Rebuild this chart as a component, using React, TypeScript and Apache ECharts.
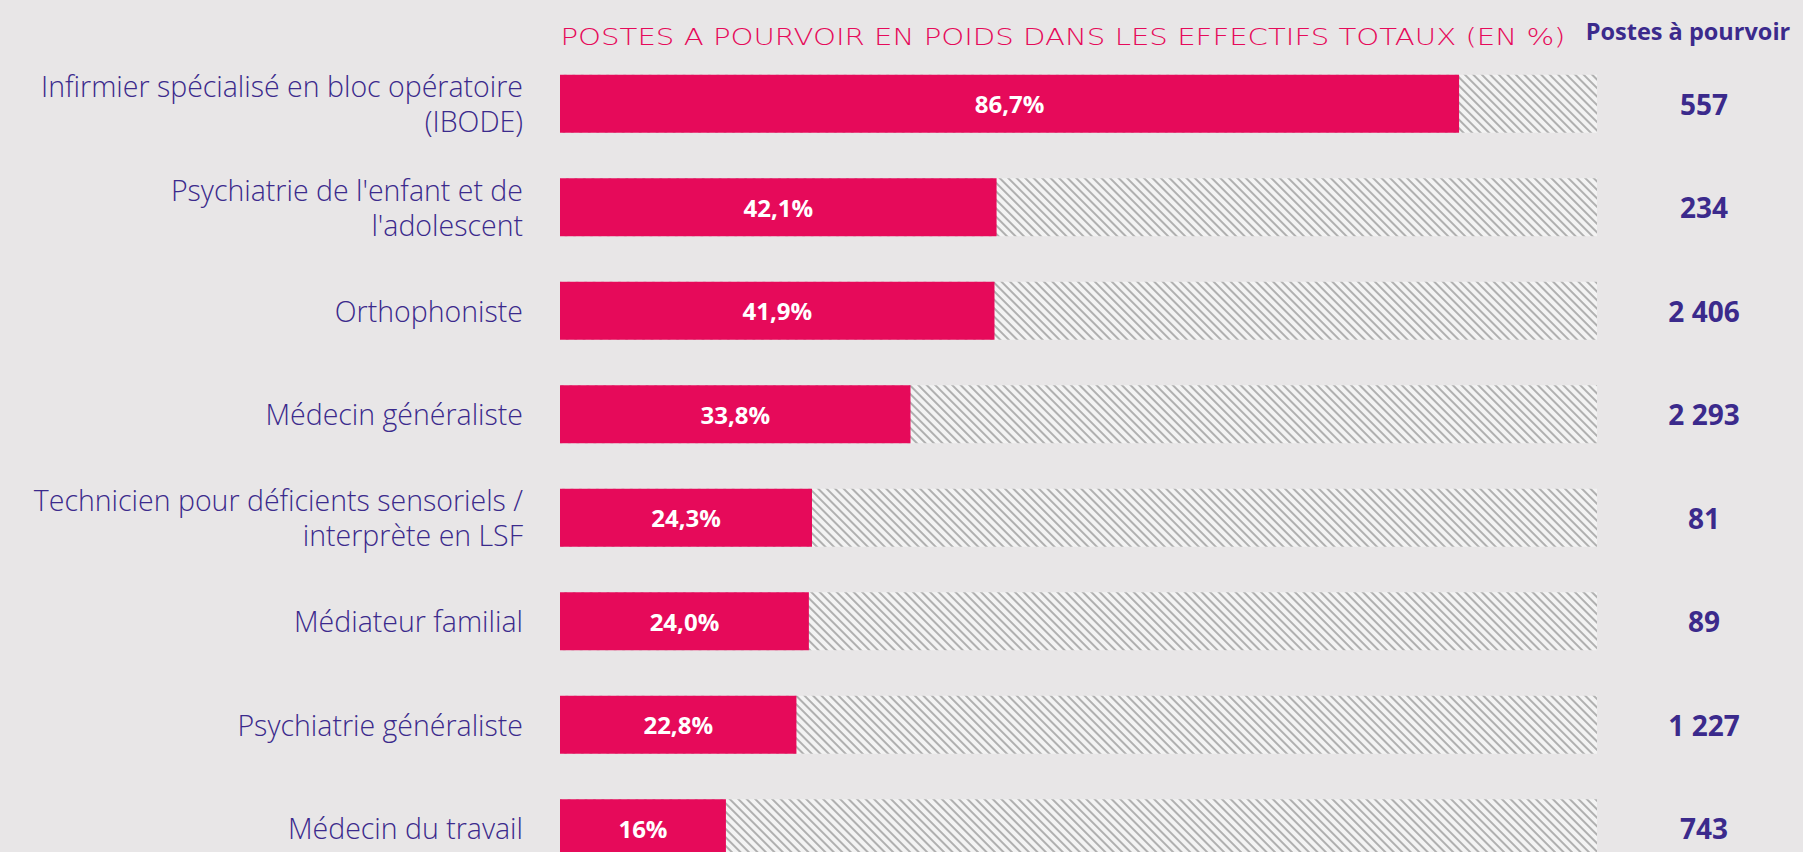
import React, { useEffect, useRef } from "react";
import * as echarts from "echarts";

const categories = [
  "Infirmier spécialisé en bloc opératoire\n(IBODE)",
  "Psychiatrie de l'enfant et de\nl'adolescent",
  "Orthophoniste",
  "Médecin généraliste",
  "Technicien pour déficients sensoriels /\ninterprète en LSF",
  "Médiateur familial",
  "Psychiatrie généraliste",
  "Médecin du travail",
];
const shareValues = [86.7, 42.1, 41.9, 33.8, 24.3, 24.0, 22.8, 16];
const shareLabels = ["86,7%", "42,1%", "41,9%", "33,8%", "24,3%", "24,0%", "22,8%", "16%"];
const postesLabels = ["557", "234", "2 406", "2 293", "81", "89", "1 227", "743"];
const fullValues = categories.map(() => 100);

const PURPLE = "#3b2a8c";
const PINK = "#e60a5a";
const FONT = "'Open Sans', Lato, sans-serif";

export default function App() {
  const ref = useRef<HTMLDivElement>(null);
  useEffect(() => {
    if (!ref.current) return;
    const chart = echarts.init(ref.current, null, { renderer: "svg" });
    chart.setOption({
      animation: false,
      backgroundColor: "#e8e6e7",
      graphic: [
        {
          type: "text",
          x: 1063,
          y: 37,
          scaleX: 1.27,
          style: {
            text: "POSTES A POURVOIR EN POIDS DANS LES EFFECTIFS TOTAUX (EN %)",
            fill: PINK,
            font: "200 23px 'DejaVu Sans', sans-serif",
            align: "center",
            verticalAlign: "middle",
          },
        },
        {
          type: "text",
          x: 1688,
          y: 31,
          style: {
            text: "Postes à pourvoir",
            fill: PURPLE,
            font: "bold 23.5px " + FONT,
            align: "center",
            verticalAlign: "middle",
          },
        },
      ],
      grid: { left: 560, top: 52, width: 1037, height: 828, containLabel: false },
      xAxis: {
        type: "value",
        min: 0,
        max: 100,
        show: false,
      },
      yAxis: [
        {
          type: "category",
          data: categories,
          inverse: true,
          axisLine: { show: false },
          axisTick: { show: false },
          axisLabel: {
            margin: 37,
            color: PURPLE,
            fontFamily: FONT,
            fontWeight: 300,
            fontSize: 28.5,
            lineHeight: 35,
            align: "right",
          },
        },
        {
          type: "category",
          data: postesLabels,
          inverse: true,
          position: "right",
          axisLine: { show: false },
          axisTick: { show: false },
          axisLabel: {
            margin: 107,
            align: "center",
            color: PURPLE,
            fontFamily: FONT,
            fontWeight: "bold",
            fontSize: 28,
          },
        },
      ],
      series: [
        {
          type: "bar",
          data: fullValues,
          barWidth: 58,
          barGap: "-100%",
          silent: true,
          z: 1,
          itemStyle: {
            color: "#f3f3f3",
            decal: {
              symbol: "rect",
              color: "#b0b0b0",
              dashArrayX: [1, 0],
              dashArrayY: [1.5, 4],
              rotation: Math.PI / 4,
            },
          },
        },
        {
          type: "bar",
          data: shareValues,
          barWidth: 58,
          z: 2,
          itemStyle: { color: PINK },
          label: {
            show: true,
            position: "inside",
            color: "#ffffff",
            fontFamily: FONT,
            fontWeight: "bold",
            fontSize: 24,
            formatter: (p: any) => shareLabels[p.dataIndex],
          },
        },
      ],
    });
    return () => chart.dispose();
  }, []);
  return (
    <div style={{ position: "absolute", left: 0, top: 0, width: 1803, height: 852, overflow: "hidden" }}>
      <div ref={ref} style={{ width: 1803, height: 880 }} />
    </div>
  );
}
